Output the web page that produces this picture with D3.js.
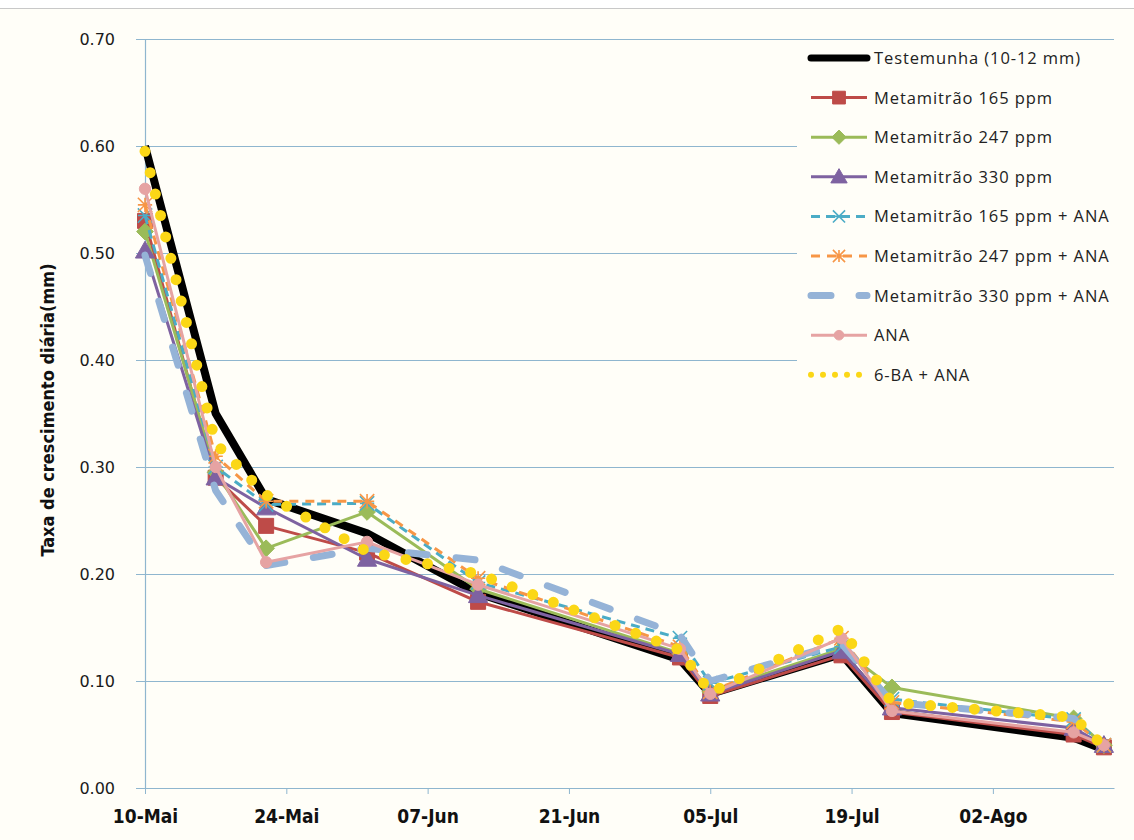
<!DOCTYPE html>
<html>
<head>
<meta charset="utf-8">
<script src="https://cdn.jsdelivr.net/npm/d3@7"></script>
<style>
  body { margin: 0; background: #fffef8; }
</style>
</head>
<body>
<div id="chart"></div>
<script>
// sampling dates (year is arbitrary, only day/month are shown)
var dates = ["2010-05-10", "2010-05-17", "2010-05-22", "2010-06-01", "2010-06-12", "2010-07-02",
             "2010-07-05", "2010-07-18", "2010-07-23", "2010-08-10", "2010-08-13"];

var testemunha   = [0.600, 0.350, 0.270, 0.238, 0.182, 0.120, 0.088, 0.125, 0.070, 0.047, 0.036];
var meta165      = [0.530, 0.290, 0.245, 0.220, 0.174, 0.122, 0.086, 0.124, 0.071, 0.050, 0.038];
var meta247      = [0.520, 0.295, 0.224, 0.258, 0.186, 0.126, 0.090, 0.130, 0.094, 0.065, 0.040];
var meta330      = [0.502, 0.290, 0.262, 0.214, 0.180, 0.125, 0.088, 0.128, 0.075, 0.056, 0.040];
var meta165Ana   = [0.535, 0.300, 0.265, 0.266, 0.192, 0.140, 0.098, 0.132, 0.083, 0.064, 0.040];
var meta247Ana   = [0.545, 0.310, 0.268, 0.268, 0.196, 0.132, 0.090, 0.140, 0.080, 0.062, 0.040];
var meta330Ana   = [0.498, 0.278, 0.208, 0.224, 0.213, 0.143, 0.100, 0.135, 0.080, 0.065, 0.040];
var ana          = [0.560, 0.300, 0.211, 0.230, 0.190, 0.130, 0.088, 0.140, 0.072, 0.052, 0.040];
var baAna        = [0.595, 0.322, 0.274, 0.221, 0.200, 0.129, 0.089, 0.149, 0.080, 0.066, 0.039];

var seriesNames = ["Testemunha (10-12  mm)", "Metamitrão 165 ppm", "Metamitrão 247 ppm", "Metamitrão 330 ppm",
                   "Metamitrão 165 ppm + ANA", "Metamitrão 247 ppm + ANA", "Metamitrão 330 ppm + ANA",
                   "ANA", "6-BA + ANA"];

var tickDates  = ["2010-05-10", "2010-05-24", "2010-06-07", "2010-06-21", "2010-07-05", "2010-07-19", "2010-08-02"];
var tickLabels = ["10-Mai", "24-Mai", "07-Jun", "21-Jun", "05-Jul", "19-Jul", "02-Ago"];
var yTicks = [0, 0.1, 0.2, 0.3, 0.4, 0.5, 0.6, 0.7];

var allValues = [testemunha, meta165, meta247, meta330, meta165Ana, meta247Ana, meta330Ana, ana, baAna];

// drawing styles, one per series
var styles = [
  {color: "#000000", width: 8,   dash: null,    marker: null},
  {color: "#be4b48", width: 3,   dash: null,    marker: "square"},
  {color: "#9bbb59", width: 3,   dash: null,    marker: "diamond"},
  {color: "#7e62a1", width: 3,   dash: null,    marker: "triangle"},
  {color: "#4bacc6", width: 3,   dash: "9 6",   marker: "times"},
  {color: "#f79646", width: 3,   dash: "9 7",   marker: "star"},
  {color: "#95b3d7", width: 7,   dash: "19 29", marker: null, cap: "round"},
  {color: "#e6a3a3", width: 3,   dash: null,    marker: "circle"},
  {color: "#fbd716", width: 11,  dash: "0 22",  marker: null, cap: "round"}
];

var parse = d3.timeParse("%Y-%m-%d");
var W = 1134, H = 840;
var margin = {top: 39, right: 14, bottom: 52, left: 145};
var width = W - margin.left - margin.right,
    height = H - margin.top - margin.bottom;

var svg = d3.select("#chart").append("svg")
    .attr("width", W)
    .attr("height", H)
    .style("display", "block");

svg.append("rect").attr("width", W).attr("height", H).attr("fill", "#fffef8");
svg.append("rect").attr("width", W).attr("height", 8).attr("fill", "#ffffff");
svg.append("line")
    .attr("x1", 0).attr("x2", W).attr("y1", 8.5).attr("y2", 8.5)
    .attr("stroke", "#c8c8c8").attr("stroke-width", 1);

var g = svg.append("g")
    .attr("transform", "translate(" + margin.left + "," + margin.top + ")");

var x = d3.scaleTime()
    .domain([parse("2010-05-10"), parse("2010-08-14")])
    .range([0, width - 6]);
var y = d3.scaleLinear()
    .domain([0, 0.7])
    .range([height, 0]);

// horizontal gridlines
g.append("g")
    .selectAll("line")
    .data(yTicks)
    .enter().append("line")
    .attr("x1", 0)
    .attr("x2", width - 6)
    .attr("y1", function(d) { return Math.round(y(d)) + 0.5; })
    .attr("y2", function(d) { return Math.round(y(d)) + 0.5; })
    .attr("stroke", "#8fb6cf")
    .attr("stroke-width", 1.2);

// y axis
var yAxis = g.append("g")
    .call(d3.axisLeft(y).tickValues(yTicks).tickFormat(d3.format(".2f")).tickSize(9).tickPadding(21));
yAxis.select(".domain").attr("stroke", "#8fb6cf").attr("stroke-width", 1.2);
yAxis.selectAll(".tick line").attr("stroke", "#8fb6cf");
yAxis.selectAll("text")
    .style("font-family", "'DejaVu Sans', Verdana, sans-serif")
    .style("font-size", "16px")
    .style("font-weight", "normal")
    .attr("fill", "#1a1a1a");

// x axis
var xAxis = g.append("g")
    .attr("transform", "translate(0," + height + ")")
    .call(d3.axisBottom(x)
        .tickValues(tickDates.map(parse))
        .tickFormat(function(d, i) { return tickLabels[i]; })
        .tickSize(6).tickSizeOuter(0).tickPadding(16));
xAxis.select(".domain").attr("stroke", "#8fb6cf").attr("stroke-width", 1.2);
xAxis.selectAll(".tick line").attr("stroke", "#8fb6cf");
xAxis.selectAll("text")
    .style("font-family", "'DejaVu Sans Condensed', 'DejaVu Sans', sans-serif")
    .style("font-weight", "bold")
    .style("font-size", "19px")
    .attr("fill", "#111");

// y axis title
svg.append("text")
    .attr("transform", "translate(54,410) rotate(-90)")
    .attr("text-anchor", "middle")
    .style("font-family", "'DejaVu Sans Condensed', 'DejaVu Sans', sans-serif")
    .style("font-weight", "bold")
    .style("font-size", "18px")
    .attr("fill", "#111")
    .text("Taxa de crescimento diária(mm)");

// marker shapes
function markerPath(type, s) {
  if (type === "square")   return d3.symbol(d3.symbolSquare, s * s)();
  if (type === "diamond")  return "M0," + (-s * 0.6) + "L" + (s * 0.6) + ",0L0," + (s * 0.6) + "L" + (-s * 0.6) + ",0Z";
  if (type === "triangle") return "M0," + (-s * 0.6) + "L" + (s * 0.6) + "," + (s * 0.45) + "L" + (-s * 0.6) + "," + (s * 0.45) + "Z";
  if (type === "circle")   return d3.symbol(d3.symbolCircle, s * s * 0.7)();
  var r = s * 0.55;
  if (type === "times")
    return "M" + (-r) + "," + (-r) + "L" + r + "," + r + "M" + (-r) + "," + r + "L" + r + "," + (-r) +
           "M" + (-r) + ",0L" + r + ",0";
  if (type === "star")
    return "M" + (-r) + "," + (-r) + "L" + r + "," + r + "M" + (-r) + "," + r + "L" + r + "," + (-r) +
           "M0," + (-r) + "L0," + r + "M" + (-r) + ",0L" + r + ",0";
  return null;
}
var markerSize = {square: 15, diamond: 14, triangle: 16, circle: 12, times: 13, star: 13};

function styleMarker(sel, st) {
  if (st.marker === "times" || st.marker === "star") {
    sel.attr("fill", "none").attr("stroke", st.color).attr("stroke-width", 1.6);
  } else {
    sel.attr("fill", st.color).attr("stroke", st.color).attr("stroke-width", 1);
  }
}

var line = d3.line()
    .x(function(d) { return x(d.date); })
    .y(function(d) { return y(d.value); });

allValues.forEach(function(vals, i) {
  var st = styles[i];
  var data = vals.map(function(v, j) { return {date: parse(dates[j]), value: v}; });
  var sg = g.append("g").attr("class", "series");
  sg.append("path")
      .datum(data)
      .attr("fill", "none")
      .attr("stroke", st.color)
      .attr("stroke-width", st.width)
      .attr("stroke-linejoin", "round")
      .attr("stroke-linecap", st.cap || "butt")
      .attr("stroke-dasharray", st.dash)
      .attr("d", line);
  if (st.marker) {
    sg.selectAll("path.mk")
        .data(data)
        .enter().append("path")
        .attr("class", "mk")
        .attr("transform", function(d) { return "translate(" + x(d.date) + "," + y(d.value) + ")"; })
        .attr("d", markerPath(st.marker, markerSize[st.marker]))
        .call(styleMarker, st);
  }
});

// legend
var legend = svg.append("g").attr("transform", "translate(797,42)");
legend.append("rect")
    .attr("width", 330).attr("height", 350)
    .attr("fill", "#fffef8");

var items = legend.selectAll("g.item")
    .data(seriesNames)
    .enter().append("g")
    .attr("class", "item")
    .attr("transform", function(d, i) { return "translate(0," + (16 + i * 39.6) + ")"; });

items.each(function(name, i) {
  var st = styles[i];
  var it = d3.select(this);
  it.append("line")
      .attr("x1", 14).attr("x2", 70)
      .attr("stroke", st.color)
      .attr("stroke-width", i === 0 ? 7 : (i === 8 ? 6 : st.width))
      .attr("stroke-linecap", st.cap || (i === 0 ? "round" : "butt"))
      .attr("stroke-dasharray", i === 6 ? "20 28" : (i === 8 ? "0 12" : st.dash));
  if (st.marker) {
    it.append("path")
        .attr("transform", "translate(42,0)")
        .attr("d", markerPath(st.marker, markerSize[st.marker] * 0.85))
        .call(styleMarker, st);
  }
  it.append("text")
      .attr("x", 77)
      .attr("y", 6)
      .style("font-family", "'Open Sans', sans-serif")
      .style("font-size", "16.5px")
      .style("letter-spacing", "0.9px")
      .attr("fill", "#222")
      .text(name);
});
</script>
</body>
</html>
